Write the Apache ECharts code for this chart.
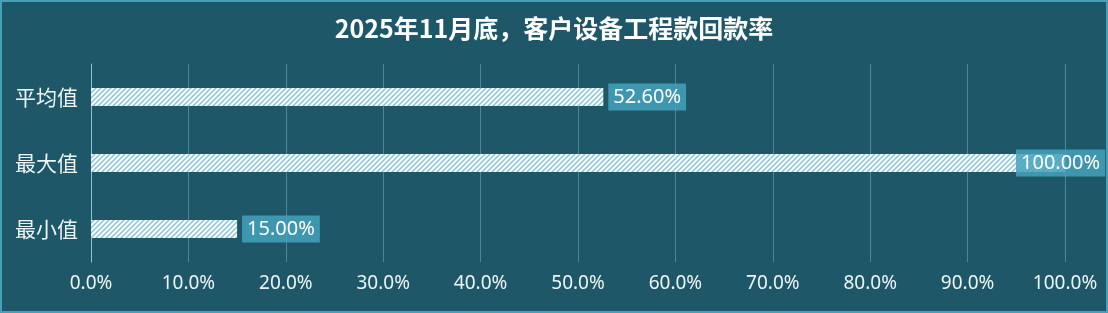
<!DOCTYPE html>
<html><head><meta charset="utf-8">
<script src="https://cdn.jsdelivr.net/npm/echarts@6/dist/echarts.min.js"></script>
<style>
html,body{margin:0;padding:0;background:#1e5868;}
#c{width:1104px;height:309px;border:2px solid #45a0b8;}
</style></head>
<body><div id="c"></div>
<script>
const categories = ['平均值', '最大值', '最小值'];
const values = [52.6, 100.0, 15.0];
const xTicks = [0, 10, 20, 30, 40, 50, 60, 70, 80, 90, 100];
const titleText = '2025年11月底，客户设备工程款回款率';

function makePattern() {
  const s = 5;
  const cv = document.createElement('canvas');
  cv.width = s; cv.height = s;
  const ctx = cv.getContext('2d');
  ctx.fillStyle = '#ffffff';
  ctx.fillRect(0, 0, s, s);
  ctx.strokeStyle = '#7fc3da';
  ctx.lineWidth = 1.4;
  ctx.beginPath();
  ctx.moveTo(0, s); ctx.lineTo(s, 0);
  ctx.moveTo(-1, 1); ctx.lineTo(1, -1);
  ctx.moveTo(s - 1, s + 1); ctx.lineTo(s + 1, s - 1);
  ctx.stroke();
  return cv;
}

const chart = echarts.init(document.getElementById('c'));
const pat = makePattern();
const labelBase = {
  show: true, position: 'right', distance: 5,
  color: '#ffffff', fontSize: 20, lineHeight: 21, fontFamily: 'Noto Sans, sans-serif',
  backgroundColor: 'rgba(68,162,188,0.85)', padding: [3, 5, 3, 5],
  formatter: p => p.value.toFixed(2) + '%'
};
const seriesData = values.map(v => {
  const item = { value: v };
  if (v >= 100) item.label = { offset: [-54, 0] };
  return item;
});
chart.setOption({
  backgroundColor: '#1e5868',
  animation: false,
  title: {
    text: titleText, left: 'center', top: 9,
    textStyle: { color: '#ffffff', fontSize: 25, fontWeight: 'bold', fontFamily: 'Noto Sans CJK SC, sans-serif' }
  },
  grid: { left: 89, right: 41, top: 62, bottom: 49, containLabel: false },
  xAxis: {
    type: 'value', min: 0, max: 100, interval: 10,
    axisLine: { show: false }, axisTick: { show: false },
    splitLine: { show: true, lineStyle: { color: '#4d8796', width: 1 } },
    axisLabel: { color: '#eef5f7', fontSize: 19, margin: 12, fontFamily: 'Noto Sans, sans-serif',
      formatter: v => (xTicks.includes(v) ? v.toFixed(1) + '%' : '') }
  },
  yAxis: {
    type: 'category', data: categories, inverse: true,
    axisLine: { show: true, lineStyle: { color: '#8cc3d1', width: 1 } },
    axisTick: { show: false },
    axisLabel: { color: '#eef5f7', fontSize: 21, margin: 13, fontFamily: 'Noto Sans CJK SC, sans-serif' }
  },
  series: [{
    type: 'bar', data: seriesData, barWidth: 18,
    itemStyle: { color: { image: pat, repeat: 'repeat' } },
    label: labelBase
  }]
});
</script></body></html>
